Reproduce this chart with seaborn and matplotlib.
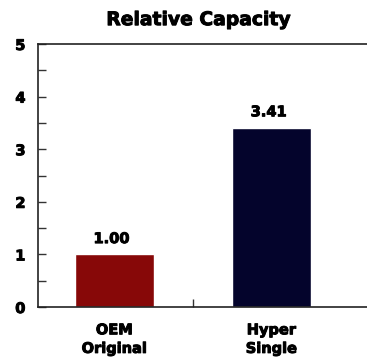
import matplotlib
matplotlib.use("Agg")
import matplotlib.pyplot as plt
import matplotlib.patheffects as pe
import seaborn as sns
import pandas as pd
from matplotlib.ticker import MultipleLocator

# Relative capacity of the two batteries
categories = ["OEM\nOriginal", "Hyper\nSingle"]
capacity = [1.00, 3.41]
bar_colors = ["#870808", "#04042c"]
y_ticks = [0, 1, 2, 3, 4, 5]

df = pd.DataFrame({"battery": categories, "capacity": capacity})

sns.set_theme(style="white")
plt.rcParams["font.family"] = ["DejaVu Sans"]
plt.rcParams["text.color"] = "black"
plt.rcParams["xtick.color"] = "black"
plt.rcParams["ytick.color"] = "black"
plt.rcParams["axes.edgecolor"] = "black"

# heavier glyphs for a poster-style look
heavy = [pe.withStroke(linewidth=0.7, foreground="black")]

fig = plt.figure(figsize=(3.67, 3.57), dpi=100)
ax = fig.add_axes([0.1035, 0.140, 0.8965, 0.7368])

sns.barplot(data=df, x="battery", y="capacity", hue="battery",
            palette=bar_colors, width=0.5, dodge=False, legend=False,
            saturation=1, ax=ax)

ax.set_xlim(-0.487, 1.608)
ax.set_ylim(0, 5)
ax.set_yticks(y_ticks)
ax.yaxis.set_minor_locator(MultipleLocator(0.5))
ax.set_xticks([0, 1])
ax.set_xticks([0.5], minor=True)
ax.set_xticklabels(categories, fontsize=10.5, fontweight="bold", linespacing=1.3)
ax.set_yticklabels([str(t) for t in y_ticks], fontsize=10.5, fontweight="bold")
for lbl in ax.get_xticklabels() + ax.get_yticklabels():
    lbl.set_path_effects(heavy)

ax.tick_params(axis="y", which="both", direction="in", length=6, width=1,
               color="#333333", pad=9, left=True)
ax.tick_params(axis="x", which="major", length=0, pad=11)
ax.tick_params(axis="x", which="minor", direction="in", length=6, width=1,
               color="#333333", bottom=True)

for side in ["left", "bottom", "top"]:
    ax.spines[side].set_visible(True)
    ax.spines[side].set_color("#222222")
    ax.spines[side].set_linewidth(1.2)
ax.spines["right"].set_visible(False)

ax.set_xlabel("")
ax.set_ylabel("")

for i, v in enumerate(capacity):
    ax.annotate(f"{v:.2f}", (i, v), xytext=(-2, 6), textcoords="offset points",
                ha="center", va="bottom", fontsize=10.5, fontweight="bold",
                path_effects=heavy)

fig.text(0.541, 0.945, "Relative Capacity", ha="center", va="center",
         fontsize=13.5, fontweight="bold", path_effects=heavy)

fig.savefig("out.png", dpi=100)
